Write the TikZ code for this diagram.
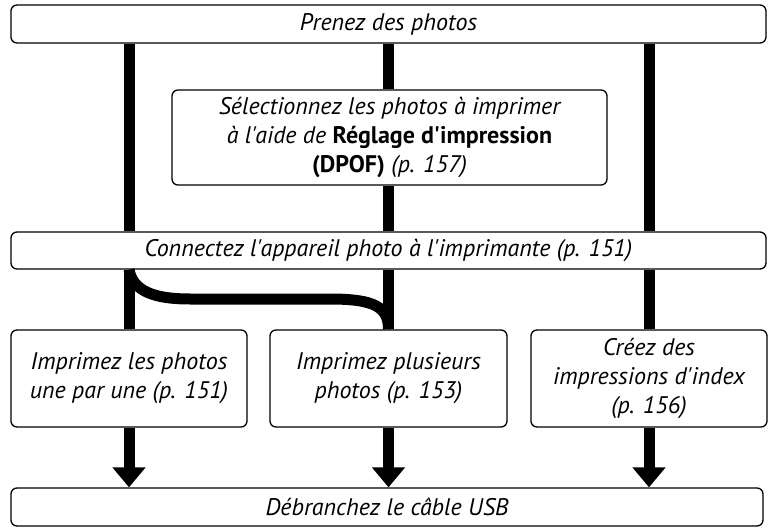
\documentclass[tikz,border=0pt]{standalone}
\usepackage{fontspec}
\setmainfont{PT Sans}[Ligatures=TeXOff]
\usetikzlibrary{arrows.meta}
\tikzset{
  etape/.style={draw, line width=1.3pt, rounded corners=6pt, fill=white,
    align=center, inner sep=0pt, font=\fontsize{24}{29}\selectfont\itshape},
  etapelarge/.style={etape, minimum width=755pt, minimum height=38pt},
  etapebas/.style={etape, minimum width=236pt, minimum height=97pt},
  trait/.style={line width=11pt},
  fleche/.style={trait, -{Triangle[width=32pt,length=20pt]}}
}
\begin{document}
\begin{tikzpicture}[x=1pt,y=-1pt]
 \useasboundingbox (0,0) rectangle (773,529);
 % etapes
 \node[etapelarge] (prenez) at (388.5,24) {Prenez des photos};
 \node[etape, minimum width=435pt, minimum height=95pt] (dpof) at (389.5,137.5)
   {Sélectionnez les photos à imprimer\\à l'aide de \textbf{\upshape Réglage d'impression}\\\textbf{\upshape (DPOF)} (p. 157)};
 \node[etapelarge, minimum height=37pt] (connect) at (388.5,250.5)
   {Connectez l'appareil photo à l'imprimante (p. 151)};
 \node[etapebas] (une) at (129,378.5) {Imprimez les photos\\une par une (p. 151)};
 \node[etapebas, minimum width=237pt] (plusieurs) at (388.5,378.5) {Imprimez plusieurs\\photos (p. 153)};
 \node[etapebas] (index) at (649,378.5) {Créez des\\impressions d'index\\(p. 156)};
 \node[etapelarge, minimum width=752pt] (usb) at (387,507) {Débranchez le câble USB};
 % traits
 \draw[trait] (prenez.south -| une.north) -- (connect.north -| une.north);
 \draw[trait] (prenez.south -| plusieurs.north) -- (dpof.north -| plusieurs.north);
 \draw[trait] (dpof.south -| plusieurs.north) -- (connect.north -| plusieurs.north);
 \draw[trait] (prenez.south -| index.north) -- (connect.north -| index.north);
 \draw[trait] (connect.south -| une.north) -- (une.north);
 \draw[trait] (connect.south -| plusieurs.north) -- (plusieurs.north);
 \draw[trait] (connect.south -| index.north) -- (index.north);
 \coordinate (coudeA) at (190,299);
 \coordinate (coudeB) at (330,299);
 \draw[trait] (connect.south -| une.north) .. controls +(4,22) and +(-35,0) .. (coudeA)
   -- (coudeB) .. controls +(45,0) and +(0,-22) .. (plusieurs.north);
 % fleches
 \draw[fleche] (une.south) -- (une.south |- usb.north);
 \draw[fleche] (plusieurs.south) -- (plusieurs.south |- usb.north);
 \draw[fleche] (index.south) -- (index.south |- usb.north);
\end{tikzpicture}
\end{document}
